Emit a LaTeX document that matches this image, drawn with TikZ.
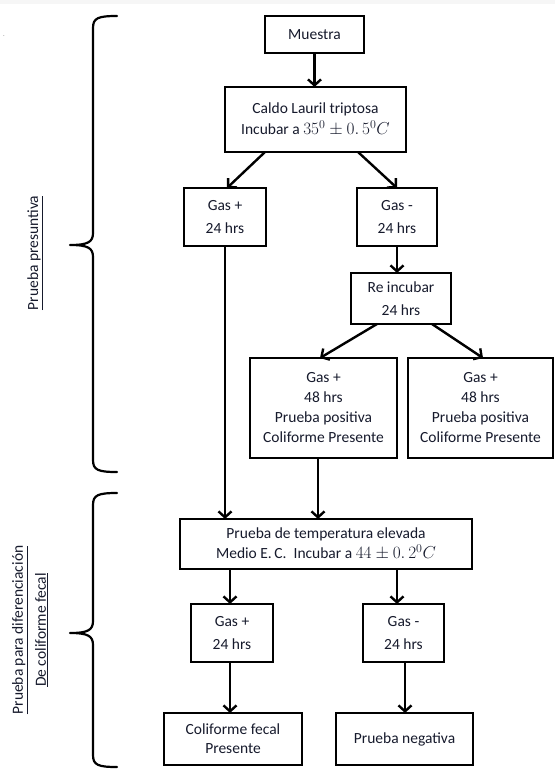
\documentclass[tikz,border=0pt]{standalone}
\usepackage{fontspec}
\setmainfont{Carlito}
\usetikzlibrary{arrows.meta,calc}
\definecolor{txt}{RGB}{22,26,44}
\newcommand{\mth}[1]{{\fontsize{16.5}{20.5}\selectfont$#1$}}
\tikzset{
  box/.style={draw=black, line width=2.4pt, rectangle, inner sep=0pt, outer sep=0pt, align=center, text=txt,
    font=\fontsize{15.5}{20}\selectfont},
  arr/.style={line width=2.4pt, -{Straight Barb[length=6pt,width=13pt,line width=2.4pt]}},
  brace/.style={line width=2.2pt, line cap=round, line join=round},
  sidelabel/.style={rotate=90, text=txt, font=\fontsize{15.5}{23}\selectfont, align=center, inner sep=0pt}
}
\begin{document}
\begin{tikzpicture}[x=1pt,y=-1pt]
\useasboundingbox (0,0) rectangle (555,771);
\fill[gray!7] (0,0) rectangle (555,4);
\node[inner sep=0pt, font=\tiny] (dot) at (4,36) {.};

% boxes
\node[box, minimum width=99pt, minimum height=37pt] (muestra) at (314.5,34.5) {Muestra};
\node[box, minimum width=181pt, minimum height=65pt, font=\fontsize{15.5}{20.5}\selectfont] (caldo) at (315.5,119.5) {Caldo Lauril triptosa\\Incubar a \mth{35^{0} \pm 0.\,5^{0}C}};
\node[box, minimum width=82pt, minimum height=58pt, font=\fontsize{15.5}{22.5}\selectfont] (gpl) at (225,217) {Gas +\\24 hrs};
\node[box, minimum width=80pt, minimum height=58pt, font=\fontsize{15.5}{22.5}\selectfont] (gml) at (397,217) {Gas -\\24 hrs};
\node[box, minimum width=100pt, minimum height=51pt, font=\fontsize{15.5}{22.5}\selectfont] (reinc) at (401,298.5) {Re incubar\\24 hrs};
\node[box, minimum width=147pt, minimum height=100pt] (pa) at (323.5,408) {Gas +\\48 hrs\\Prueba positiva\\Coliforme Presente};
\node[box, minimum width=145pt, minimum height=100pt] (pb) at (480.5,408) {Gas +\\48 hrs\\Prueba positiva\\Coliforme Presente};
\node[box, minimum width=292pt, minimum height=50pt, font=\fontsize{15.5}{20.5}\selectfont] (temp) at (326,544) {Prueba de temperatura elevada\\Medio E.\,C.\ \ Incubar a \mth{44 \pm 0.\,2^{0}C}};
\node[box, minimum width=82pt, minimum height=58pt, font=\fontsize{15.5}{22.5}\selectfont] (gp2) at (232,633) {Gas +\\24 hrs};
\node[box, minimum width=81pt, minimum height=58pt, font=\fontsize{15.5}{22.5}\selectfont] (gm2) at (403.5,633) {Gas -\\24 hrs};
\node[box, minimum width=138pt, minimum height=52pt, font=\fontsize{15.5}{19}\selectfont] (colf) at (233,739) {Coliforme fecal\\Presente};
\node[box, minimum width=137pt, minimum height=52pt] (neg) at (404.5,739) {Prueba negativa};

% arrows
\draw[arr] (muestra.south) -- (muestra.south |- caldo.north);
\draw[arr] ([xshift=-50.5pt]caldo.south) -- ([xshift=2pt]gpl.north);
\draw[arr] ([xshift=42.5pt]caldo.south) -- (gml.north);
\draw[arr] (gml.south) -- (gml.south |- reinc.north);
\draw[arr] ([xshift=-24pt]reinc.south) -- ([xshift=-3.5pt]pa.north);
\draw[arr] ([xshift=31pt]reinc.south) -- ([xshift=2.5pt]pb.north);
\draw[arr] (gpl.south) -- (gpl.south |- temp.north);
\draw[arr] ([xshift=-5.5pt]pa.south) -- ([xshift=-5.5pt]pa.south |- temp.north);
\draw[arr] ([xshift=-2pt]gp2.north |- temp.south) -- ([xshift=-2pt]gp2.north);
\draw[arr] ([xshift=-6.5pt]gm2.north |- temp.south) -- ([xshift=-6.5pt]gm2.north);
\draw[arr] ([xshift=-2pt]gp2.south) -- ([xshift=-2pt]gp2.south |- colf.north);
\draw[arr] ([xshift=1.5pt]gm2.south) -- ([xshift=1.5pt]gm2.south |- neg.north);

% braces
\coordinate (b1top) at (117,16);
\coordinate (b1tip) at (70,245);
\coordinate (b1bot) at (117,472);
\draw[brace] (b1top) .. controls (98,16) and (93,18) .. (93,28) -- (93,233)
  .. controls (93,242) and (88,245) .. (b1tip)
  .. controls (88,245) and (93,248) .. (93,257) -- (93,460)
  .. controls (93,470) and (98,472) .. (b1bot);
\coordinate (b2top) at (117,493);
\coordinate (b2tip) at (70,633);
\coordinate (b2bot) at (117,767);
\draw[brace] (b2top) .. controls (98,493) and (93,495) .. (93,505) -- (93,621)
  .. controls (93,630) and (88,633) .. (b2tip)
  .. controls (88,633) and (93,636) .. (93,645) -- (93,755)
  .. controls (93,765) and (98,767) .. (b2bot);

% side labels
\node[sidelabel] (lab1) at (35,253) {\underline{Prueba presuntiva}};
\node[sidelabel] (lab2) at (30,630) {\underline{Prueba para diferenciación}\\\underline{De coliforme fecal}};
\end{tikzpicture}
\end{document}
